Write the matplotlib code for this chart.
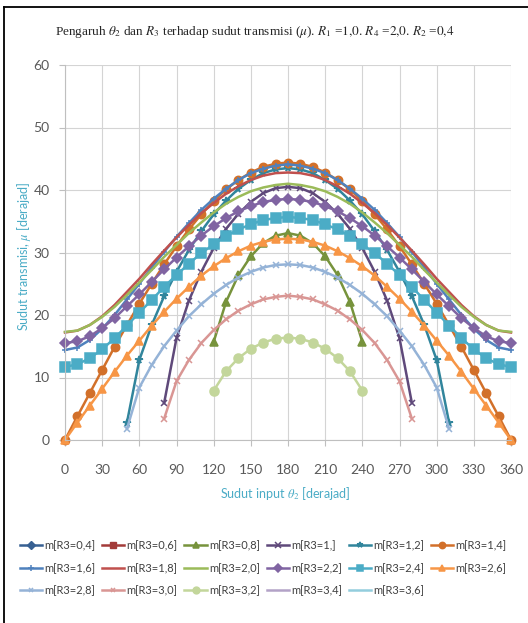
import numpy as np
import matplotlib
matplotlib.use('Agg')
import matplotlib.pyplot as plt
from matplotlib.lines import Line2D

N = np.nan

# input angle theta_2 [deg], one sample every 10 degrees
theta = np.arange(0, 361, 10)

labels = ['m[R3=0,4]', 'm[R3=0,6]', 'm[R3=0,8]', 'm[R3=1,]', 'm[R3=1,2]', 'm[R3=1,4]',
          'm[R3=1,6]', 'm[R3=1,8]', 'm[R3=2,0]', 'm[R3=2,2]', 'm[R3=2,4]', 'm[R3=2,6]',
          'm[R3=2,8]', 'm[R3=3,0]', 'm[R3=3,2]', 'm[R3=3,4]', 'm[R3=3,6]']

# transmission angle mu [deg]; empty list = no valid point in the chart
r04 = []
r06 = []
r08 = [N, N, N, N, N, N, N, N, N, N, N, N,
       15.7, 22.1, 26.4, 29.4, 31.5, 32.7, 33.1, 32.7, 31.5, 29.4, 26.4, 22.1, 15.7,
       N, N, N, N, N, N, N, N, N, N, N, N]
r10 = [N, N, N, N, N, N, N, N,
       5.9, 16.3, 22.3, 26.9, 30.7, 33.8, 36.2, 38.1, 39.5, 40.3, 40.5,
       40.3, 39.5, 38.1, 36.2, 33.8, 30.7, 26.9, 22.3, 16.3, 5.9,
       N, N, N, N, N, N, N, N]
r12 = [N, N, N, N, N,
       2.8, 12.8, 18.4, 23.0, 26.9, 30.4, 33.4, 36.1, 38.3, 40.2, 41.6, 42.7, 43.3, 43.5,
       43.3, 42.7, 41.6, 40.2, 38.3, 36.1, 33.4, 30.4, 26.9, 23.0, 18.4, 12.8, 2.8,
       N, N, N, N, N]
r14 = [0.0, 3.8, 7.5, 11.2, 14.9, 18.4, 21.8, 25.0, 28.1, 31.0, 33.7, 36.1, 38.2, 40.1,
       41.6, 42.8, 43.7, 44.2, 44.4, 44.2, 43.7, 42.8, 41.6, 40.1, 38.2, 36.1, 33.7, 31.0,
       28.1, 25.0, 21.8, 18.4, 14.9, 11.2, 7.5, 3.8, 0.0]
r16 = [14.4, 14.8, 16.0, 17.8, 20.0, 22.5, 25.0, 27.6, 30.1, 32.5, 34.7, 36.8, 38.6, 40.2,
       41.6, 42.7, 43.4, 43.9, 44.1, 43.9, 43.4, 42.7, 41.6, 40.2, 38.6, 36.8, 34.7, 32.5,
       30.1, 27.6, 25.0, 22.5, 20.0, 17.8, 16.0, 14.8, 14.4]
r18 = [17.2, 17.5, 18.4, 19.8, 21.6, 23.7, 25.8, 28.1, 30.3, 32.4, 34.4, 36.3, 37.9, 39.4,
       40.6, 41.6, 42.3, 42.7, 42.8, 42.7, 42.3, 41.6, 40.6, 39.4, 37.9, 36.3, 34.4, 32.4,
       30.3, 28.1, 25.8, 23.7, 21.6, 19.8, 18.4, 17.5, 17.2]
r20 = [17.3, 17.5, 18.4, 19.7, 21.3, 23.2, 25.2, 27.2, 29.3, 31.2, 33.1, 34.8, 36.4, 37.8,
       38.9, 39.8, 40.4, 40.8, 41.0, 40.8, 40.4, 39.8, 38.9, 37.8, 36.4, 34.8, 33.1, 31.2,
       29.3, 27.2, 25.2, 23.2, 21.3, 19.7, 18.4, 17.5, 17.3]
r22 = [15.5, 15.8, 16.6, 17.9, 19.5, 21.4, 23.3, 25.3, 27.3, 29.2, 31.0, 32.7, 34.2, 35.5,
       36.6, 37.4, 38.1, 38.4, 38.6, 38.4, 38.1, 37.4, 36.6, 35.5, 34.2, 32.7, 31.0, 29.2,
       27.3, 25.3, 23.3, 21.4, 19.5, 17.9, 16.6, 15.8, 15.5]
r24 = [11.7, 12.1, 13.1, 14.5, 16.3, 18.3, 20.4, 22.4, 24.5, 26.4, 28.2, 29.9, 31.3, 32.6,
       33.7, 34.5, 35.2, 35.5, 35.7, 35.5, 35.2, 34.5, 33.7, 32.6, 31.3, 29.9, 28.2, 26.4,
       24.5, 22.4, 20.4, 18.3, 16.3, 14.5, 13.1, 12.1, 11.7]
r26 = [0.0, 2.8, 5.5, 8.2, 10.9, 13.5, 15.9, 18.3, 20.5, 22.6, 24.5, 26.3, 27.8, 29.1,
       30.2, 31.1, 31.7, 32.1, 32.2, 32.1, 31.7, 31.1, 30.2, 29.1, 27.8, 26.3, 24.5, 22.6,
       20.5, 18.3, 15.9, 13.5, 10.9, 8.2, 5.5, 2.8, 0.0]
r28 = [N, N, N, N, N,
       1.8, 8.4, 12.0, 15.0, 17.5, 19.8, 21.7, 23.4, 24.8, 26.0, 26.9, 27.6, 28.0, 28.1,
       28.0, 27.6, 26.9, 26.0, 24.8, 23.4, 21.7, 19.8, 17.5, 15.0, 12.0, 8.4, 1.8,
       N, N, N, N, N]
r30 = [N, N, N, N, N, N, N, N,
       3.4, 9.4, 12.8, 15.5, 17.6, 19.3, 20.7, 21.7, 22.5, 22.9, 23.1,
       22.9, 22.5, 21.7, 20.7, 19.3, 17.6, 15.5, 12.8, 9.4, 3.4,
       N, N, N, N, N, N, N, N]
r32 = [N, N, N, N, N, N, N, N, N, N, N, N,
       7.9, 11.0, 13.1, 14.6, 15.6, 16.2, 16.4, 16.2, 15.6, 14.6, 13.1, 11.0, 7.9,
       N, N, N, N, N, N, N, N, N, N, N, N]
r34 = []
r36 = []

series = [r04, r06, r08, r10, r12, r14, r16, r18, r20, r22, r24, r26, r28, r30, r32, r34, r36]

colors = ['#376092', '#A33B39', '#77933C', '#5F497A', '#31859C', '#D2702A',
          '#4F81BD', '#C0504D', '#9BBB59', '#8064A2', '#4BACC6', '#F79646',
          '#95B3D7', '#D99694', '#C3D69B', '#B3A2C7', '#93CDDD']
markers = ['D', 's', '^', 'x', '*', 'o',
           '+', '', '', 'D', 's', '^',
           'x', 'x', 'o', '', '']
msizes = [5, 5.5, 5.5, 5, 5.5, 6,
          5, 0, 0, 5, 6.5, 6,
          4.5, 4.5, 6.5, 0, 0]

plt.rcParams['font.family'] = ['Lato', 'DejaVu Sans']
plt.rcParams['mathtext.fontset'] = 'stix'

fig = plt.figure(figsize=(5.28, 6.23), dpi=100)
ax = fig.add_axes([65 / 528, 1 - 440 / 623, 446 / 528, 375 / 623])

handles = []
for vals, lab, col, mk, ms in zip(series, labels, colors, markers, msizes):
    if len(vals) == 0:
        h, = ax.plot([], [], color=col, lw=1.8, marker=mk or None, markersize=ms, label=lab)
    else:
        h, = ax.plot(theta, np.array(vals, dtype=float), color=col, lw=1.8,
                     marker=mk or None, markersize=ms, markeredgewidth=1.1,
                     label=lab, clip_on=False)
    handles.append(h)

ax.set_xlim(0, 360)
ax.set_ylim(0, 60)
ax.set_xticks(range(0, 361, 30))
ax.set_yticks(range(0, 61, 10))
ax.grid(True, color='#D4D4D4', lw=0.8)
ax.set_axisbelow(True)
for s in ['top', 'right']:
    ax.spines[s].set_visible(False)
for s in ['left', 'bottom']:
    ax.spines[s].set_color('#BFBFBF')
    ax.spines[s].set_linewidth(0.8)
ax.tick_params(length=4, color='#BFBFBF', labelcolor='#595959', labelsize=10)
ax.tick_params(axis='x', pad=13)
ax.tick_params(axis='y', pad=7)

fig.text(24 / 528, 1 - 256 / 623, 'Sudut transmisi, $\\mu$ [derajad]', rotation=90,
         ha='center', va='center', color='#4BACC6', fontsize=9)
fig.text(285 / 528, 1 - 493 / 623, 'Sudut input $\\theta_2$ [derajad]',
         ha='center', va='center', color='#4BACC6', fontsize=9)

title = (r'Pengaruh $\theta_2$ dan $R_3$ terhadap sudut transmisi ($\mu$). '
         r'$R_1$ =$\mathit{1{,}0}$. $R_4$ =$\mathit{2{,}0}$. $R_2$ =$\mathit{0{,}4}$')
fig.text(255 / 528, 1 - 32 / 623, title, ha='center', va='center',
         family='Liberation Serif', fontsize=9.5, color='#262626')

# legend filled row by row like the original (matplotlib fills columns)
order = [0, 6, 12, 1, 7, 13, 2, 8, 14, 3, 9, 15, 4, 10, 16, 5, 11]
fig.legend([handles[i] for i in order], [labels[i] for i in order], ncol=6,
           loc='upper left', bbox_to_anchor=(20 / 528, 1 - 540 / 623), frameon=False,
           fontsize=8, handlelength=2.0, handletextpad=0.2, columnspacing=0.6,
           labelspacing=1.05, borderpad=0, borderaxespad=0, markerscale=0.75,
           labelcolor='#404040')

# outer black frame (top and left only, picture is cropped)
fig.add_artist(Line2D([4 / 528, 4 / 528], [0, 1 - 7 / 623], transform=fig.transFigure,
                      color='black', lw=1.3))
fig.add_artist(Line2D([4 / 528, 1], [1 - 7 / 623, 1 - 7 / 623], transform=fig.transFigure,
                      color='black', lw=1.3))

fig.savefig('out.png', dpi=100)
